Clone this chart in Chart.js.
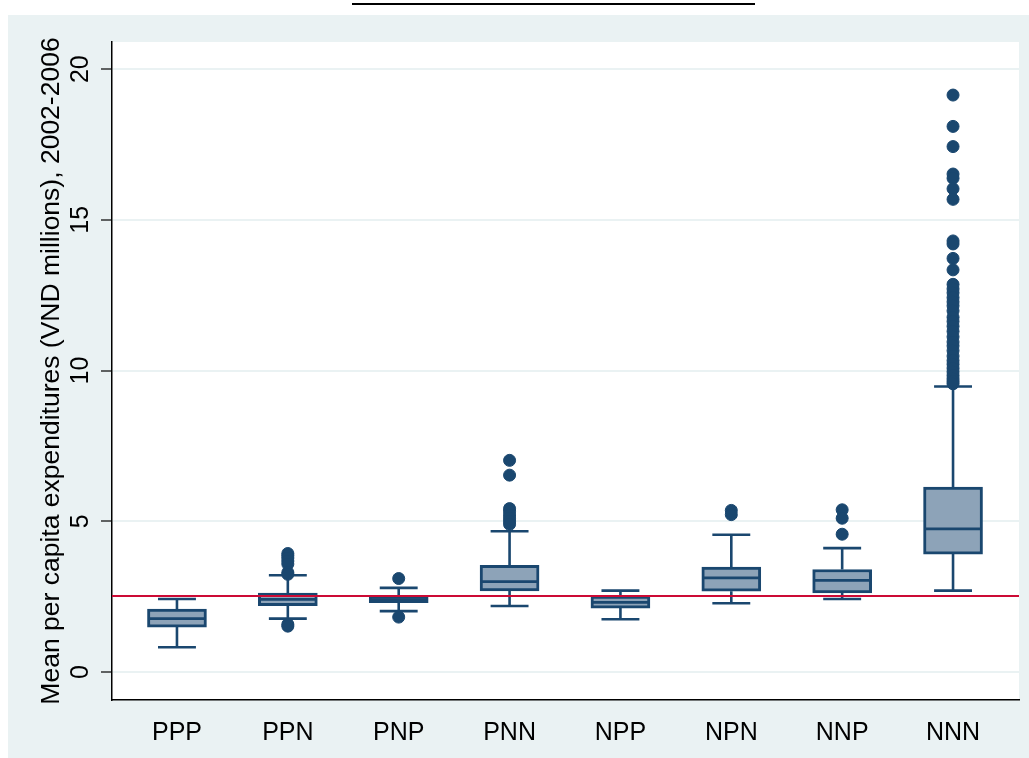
<!DOCTYPE html>
<html>
<head>
<meta charset="utf-8">
<script src="https://cdn.jsdelivr.net/npm/chart.js@4/dist/chart.umd.min.js"></script>
<style>
  body { margin: 0; background: #fff; }
  #wrap { position: relative; width: 1029px; height: 758px; }
  #titleStub { position: absolute; left: 352px; top: 3px; width: 403px; border-top: 2px solid #000; z-index: 2; }
  canvas { position: absolute; left: 0; top: 0; }
</style>
</head>
<body>
<div id="wrap">
  <div id="titleStub"></div>
  <canvas id="chart" width="1029" height="758"></canvas>
</div>
<script>
// household poverty pattern groups
var categories = ['PPP', 'PPN', 'PNP', 'PNN', 'NPP', 'NPN', 'NNP', 'NNN'];
var whiskerLow  = [0.82, 1.77, 2.02, 2.19, 1.75, 2.28, 2.42, 2.70];
var boxQ1       = [1.49, 2.20, 2.30, 2.69, 2.12, 2.68, 2.62, 3.91];
var medians     = [1.77, 2.41, 2.40, 3.00, 2.31, 3.12, 3.04, 4.75];
var boxQ3       = [2.09, 2.62, 2.52, 3.54, 2.52, 3.48, 3.40, 6.13];
var whiskerHigh = [2.42, 3.21, 2.79, 4.67, 2.70, 4.55, 4.11, 9.47];
var outliers = [
    [],
    [3.93, 3.86, 3.78, 3.68, 3.58, 3.30, 3.24, 1.58, 1.52],
    [3.10, 1.82],
    [7.02, 6.53, 5.42, 5.33, 5.21, 5.10, 5.00, 4.90],
    [],
    [5.36, 5.22],
    [5.38, 5.10, 4.57],
    [19.14, 18.10, 17.43, 16.52, 16.38, 16.03, 15.68, 14.30, 14.20, 13.72, 13.34,
     12.86, 12.71, 12.58, 12.42, 12.28, 12.15, 11.98, 11.77, 11.63, 11.47, 11.30,
     11.12, 10.95, 10.82, 10.66, 10.48, 10.33, 10.21, 10.08, 9.96, 9.84, 9.73, 9.64, 9.56]
];
var povertyLine = 2.52;
var yTicks = [0, 5, 10, 15, 20];

var navy = '#1a476f';
var boxFill = '#8da3b8';
var capHalf = 0.171;   // whisker cap half width, in category units
var boxHalf = 0.257;   // box half width, in category units

var boxes = [], medianPts = [], whiskerPts = [], outlierPts = [];
categories.forEach(function (c, i) {
    boxes.push({x: i, y: [boxQ1[i], boxQ3[i]]});
    medianPts.push({x: i - boxHalf, y: medians[i]}, {x: i + boxHalf, y: medians[i]}, {x: i, y: null});
    whiskerPts.push(
        {x: i, y: boxQ3[i]}, {x: i, y: whiskerHigh[i]}, {x: i, y: null},
        {x: i, y: boxQ1[i]}, {x: i, y: whiskerLow[i]}, {x: i, y: null},
        {x: i - capHalf, y: whiskerHigh[i]}, {x: i + capHalf, y: whiskerHigh[i]}, {x: i, y: null},
        {x: i - capHalf, y: whiskerLow[i]}, {x: i + capHalf, y: whiskerLow[i]}, {x: i, y: null}
    );
    outliers[i].forEach(function (v) { outlierPts.push({x: i, y: v}); });
});

var backgroundPlugin = {
    id: 'stataBackground',
    beforeDraw: function (chart) {
        var ctx = chart.ctx, a = chart.chartArea;
        ctx.save();
        ctx.fillStyle = '#ffffff';
        ctx.fillRect(0, 0, chart.width, chart.height);
        ctx.fillStyle = '#eaf2f3';
        ctx.fillRect(8, 15, chart.width - 8, chart.height - 15);
        ctx.fillStyle = '#ffffff';
        ctx.fillRect(a.left, a.top, a.right - a.left, a.bottom - a.top);
        ctx.restore();
    }
};

var refLinePlugin = {
    id: 'povertyLine',
    afterDatasetsDraw: function (chart) {
        var ctx = chart.ctx, a = chart.chartArea;
        var y = chart.scales.y.getPixelForValue(povertyLine);
        ctx.save();
        ctx.strokeStyle = '#cc0a35';
        ctx.lineWidth = 2.2;
        ctx.beginPath();
        ctx.moveTo(a.left, y);
        ctx.lineTo(a.right, y);
        ctx.stroke();
        ctx.restore();
    }
};

var font = "'Liberation Sans', Arial, Helvetica, sans-serif";

new Chart(document.getElementById('chart').getContext('2d'), {
    type: 'bar',
    data: {
        datasets: [
            {
                type: 'line', data: medianPts, order: 0,
                borderColor: navy, borderWidth: 2.8, pointRadius: 0, fill: false, spanGaps: false
            },
            {
                type: 'scatter', data: outlierPts, order: 1,
                backgroundColor: navy, borderColor: navy, borderWidth: 1, pointRadius: 6
            },
            {
                type: 'bar', data: boxes, order: 2,
                backgroundColor: boxFill, borderColor: navy, borderWidth: 3,
                borderSkipped: false, barThickness: 59
            },
            {
                type: 'line', data: whiskerPts, order: 3,
                borderColor: navy, borderWidth: 2.6, pointRadius: 0, fill: false, spanGaps: false
            }
        ]
    },
    options: {
        responsive: false,
        animation: false,
        events: [],
        layout: { padding: { left: 8, top: 42, right: 10, bottom: 0 } },
        plugins: { legend: { display: false }, tooltip: { enabled: false } },
        scales: {
            x: {
                type: 'linear',
                min: -0.586,
                max: 7.595,
                offset: false,
                grid: { display: false, offset: false },
                border: { display: true, color: '#000', width: 1.5 },
                afterBuildTicks: function (s) {
                    s.ticks = categories.map(function (c, i) { return {value: i}; });
                },
                afterFit: function (s) { s.height = 58; },
                ticks: {
                    autoSkip: false, maxRotation: 0, padding: 10,
                    color: '#000', font: { family: font, size: 25 },
                    callback: function (v) { return categories[v]; }
                }
            },
            y: {
                type: 'linear',
                min: -0.93,
                max: 20.9,
                stacked: false,
                afterBuildTicks: function (s) {
                    s.ticks = yTicks.map(function (v) { return {value: v}; });
                },
                afterFit: function (s) { s.width = 104; },
                grid: {
                    color: '#eaf2f3', lineWidth: 2,
                    tickColor: '#000', tickWidth: 1.2, tickLength: 11
                },
                border: { display: true, color: '#000', width: 1.5 },
                ticks: {
                    minRotation: 90, maxRotation: 90, crossAlign: 'center', padding: 6,
                    color: '#000', font: { family: font, size: 25 }
                },
                title: {
                    display: true,
                    text: 'Mean per capita expenditures (VND millions), 2002-2006',
                    color: '#000',
                    font: { family: font, size: 26.5 },
                    padding: { top: 28, bottom: 0 }
                }
            }
        }
    },
    plugins: [backgroundPlugin, refLinePlugin]
});
</script>
</body>
</html>
